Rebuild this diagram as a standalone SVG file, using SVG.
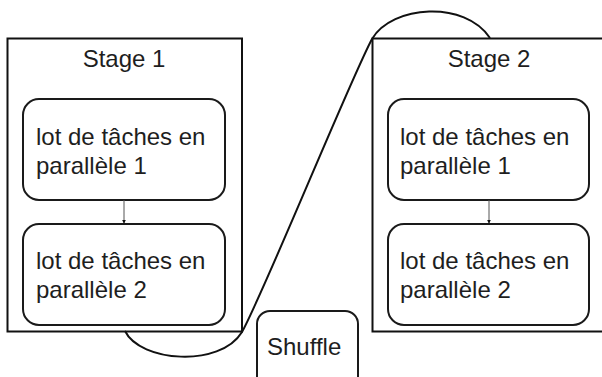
<svg xmlns="http://www.w3.org/2000/svg" width="602" height="377" viewBox="0 0 602 377">
  <defs>
    <style>
      .stage { fill: #ffffff; stroke: #111111; stroke-width: 2; }
      .task { fill: #ffffff; stroke: #1a1a1a; stroke-width: 2; }
      .label { font-family: "Liberation Sans", Arial, sans-serif; font-size: 24px; fill: #1e1e1e; }
      .mid { text-anchor: middle; }
      .flow { fill: none; stroke: #555555; stroke-width: 1; }
      .shuffle-path { fill: none; stroke: #111111; stroke-width: 2; }
    </style>
    <marker id="tip" viewBox="0 0 6 6" refX="5" refY="3" markerWidth="4" markerHeight="4" orient="auto">
      <path d="M0,0 L6,3 L0,6 z" fill="#111111"/>
    </marker>
  </defs>

  <rect width="602" height="377" fill="#ffffff"/>

  <!-- Stage 1 with its two task batches -->
  <g id="stage1">
    <rect class="stage" x="7.5" y="38.5" width="234.5" height="293"/>
    <text class="label mid" x="124" y="67">Stage 1</text>
  </g>
  <g id="stage1-batch1">
    <rect class="task" x="23" y="99" width="202" height="101" rx="16"/>
    <text class="label" x="36" y="145">lot de tâches en</text>
    <text class="label" x="36" y="174">parallèle 1</text>
  </g>
  <g id="stage1-batch2">
    <rect class="task" x="23" y="224" width="202" height="101" rx="16"/>
    <text class="label" x="36" y="269">lot de tâches en</text>
    <text class="label" x="36" y="298">parallèle 2</text>
  </g>

  <!-- Stage 2 with its two task batches -->
  <g id="stage2">
    <rect class="stage" x="372.5" y="38.5" width="240" height="293"/>
    <text class="label mid" x="489" y="67">Stage 2</text>
  </g>
  <g id="stage2-batch1">
    <rect class="task" x="388" y="99" width="201" height="101" rx="16"/>
    <text class="label" x="400" y="145">lot de tâches en</text>
    <text class="label" x="400" y="174">parallèle 1</text>
  </g>
  <g id="stage2-batch2">
    <rect class="task" x="388" y="224" width="201" height="101" rx="16"/>
    <text class="label" x="400" y="269">lot de tâches en</text>
    <text class="label" x="400" y="298">parallèle 2</text>
  </g>

  <!-- Shuffle step between stages -->
  <g id="shuffle">
    <rect class="task" x="257" y="311" width="101" height="90" rx="13"/>
    <text class="label" x="267" y="355">Shuffle</text>
  </g>

  <!-- Connectors -->
  <g id="connectors">
    <line class="flow" x1="124" y1="200" x2="124" y2="223" marker-end="url(#tip)"/>
    <line class="flow" x1="489" y1="200" x2="489" y2="223" marker-end="url(#tip)"/>
    <path class="shuffle-path" d="M125,331 C140,362 220,368 242,332 C265,290 350,80 372,39 C392,5 465,0 490,38"/>
  </g>
</svg>
